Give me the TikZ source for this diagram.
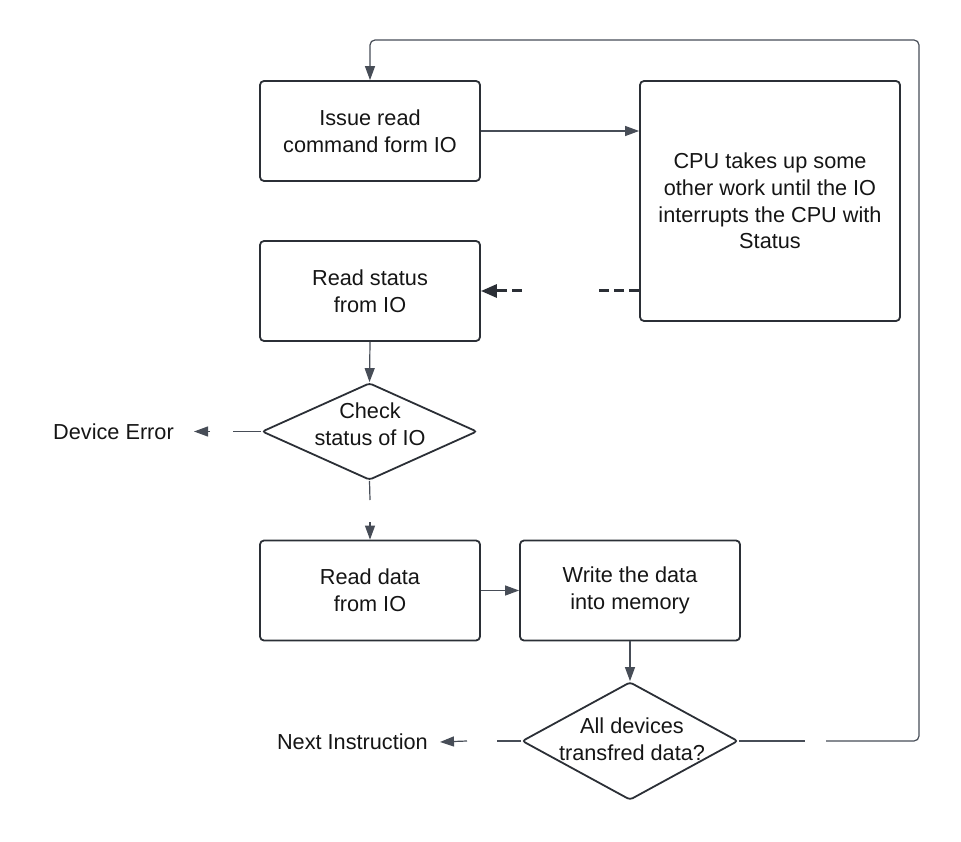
\documentclass[tikz,border=0pt]{standalone}
\usepackage{fontspec}
\setmainfont{Liberation Sans}
\usetikzlibrary{arrows.meta,shapes.geometric}
\definecolor{boxline}{HTML}{2B2F36}
\definecolor{conn}{HTML}{474D57}
\definecolor{txt}{HTML}{151515}
\tikzset{
  lbl/.style={font=\fontsize{21.7}{26.7}\selectfont, text=txt, align=center, inner sep=0pt},
  procbox/.style={lbl, draw=boxline, line width=1.8pt, rounded corners=4pt,
                  minimum width=220pt, minimum height=100pt},
  decbox/.style={draw=boxline, line width=1.8pt, diamond, rounded corners=3pt, inner sep=0pt},
  conn/.style={draw=conn, line width=1.2pt},
  carrow/.style={conn, -{Triangle[length=14pt,width=10pt]}},
  dashconn/.style={draw=boxline, line width=3pt, dash pattern=on 10pt off 5pt},
}
\begin{document}
\begin{tikzpicture}[x=1pt,y=-1pt]
\useasboundingbox (0,0) rectangle (961,842);

% boxes
\node[procbox] (issue) at (370,131) {Issue read\\command form IO};
\node[procbox, minimum width=260pt, minimum height=240pt] (cpu) at (770,201)
  {CPU takes up some\\other work until the IO\\interrupts the CPU with\\Status};
\node[procbox] (rs) at (370,291) {Read status\\from IO};
\node[procbox] (rd) at (370,590.5) {Read data\\from IO};
\node[procbox] (wr) at (630,590.5) {Write the data\\into memory};

% decisions
\node[decbox, minimum width=215pt, minimum height=97pt] (chk) at (369.5,431.5) {};
\node[lbl] (chkt) at (370,424) {Check\\status of IO};
\node[decbox, minimum width=216pt, minimum height=118pt] (all) at (630,741) {};
\node[lbl] (allt) at (632,739.5) {All devices\\transfred data?};

% terminal labels
\node[lbl, anchor=east, inner xsep=20pt] (err) at (194,431.5) {Device Error};
\node[lbl, anchor=east, inner xsep=12pt] (next) at (440,742) {Next Instruction};

% gap coordinates
\coordinate (e1) at (233,431.5);
\coordinate (e2) at (210,431.5);
\coordinate (c1) at (370,500);
\coordinate (c2) at (370,522);
\coordinate (n1) at (497,741);
\coordinate (n2) at (467,741);
\coordinate (l1) at (805,741);
\coordinate (l2) at (826,741);
\coordinate (d1) at (596,291);
\coordinate (d2) at (522,291);

% connectors
\draw[carrow] (issue.east) -- (issue.east -| cpu.west);
\draw[dashconn] (cpu.west |- rs.east) -- (d1);
\draw[dashconn, -{Triangle[length=16pt,width=13pt]}] (d2) -- (rs.east);
\draw[carrow] (rs.south) -- (chk.north);
\draw[conn] (chk.south) -- (c1);
\draw[carrow] (c2) -- (rd.north);
\draw[conn] (chk.west) -- (e1);
\draw[carrow] (e2) -- (err.east);
\draw[carrow] (rd.east) -- (wr.west);
\draw[carrow] (wr.south) -- (all.north);
\draw[conn] (all.west) -- (n1);
\draw[carrow] (n2) -- (next.east);
\draw[conn] (all.east) -- (l1);
\draw[carrow, rounded corners=5pt] (l2) -- (919,741) -- (919,40) -- (370,40) -- (issue.north);
\end{tikzpicture}
\end{document}
